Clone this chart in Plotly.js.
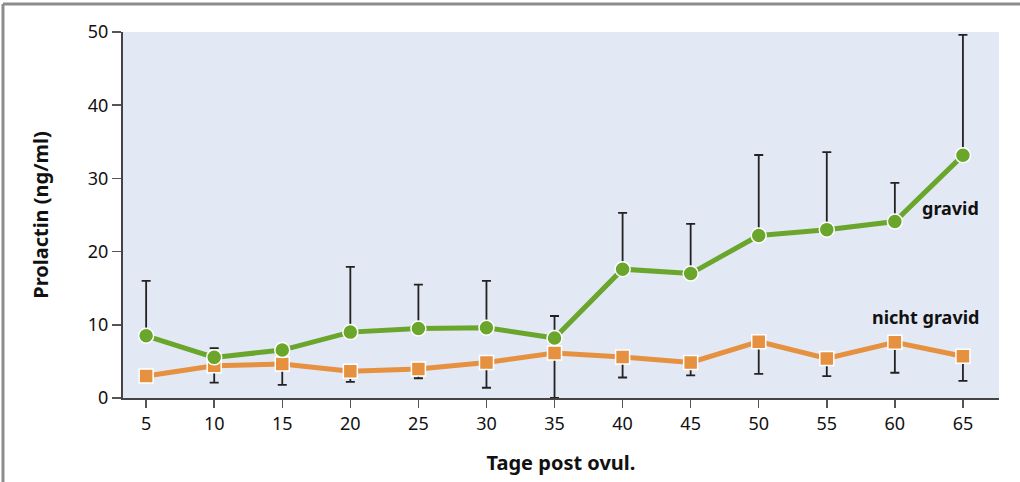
<!DOCTYPE html>
<html>
<head>
<meta charset="utf-8">
<script src="https://cdn.plot.ly/plotly-3.0.1.min.js"></script>
<style>
html,body{margin:0;padding:0;background:#fff;}
#chart{width:1020px;height:482px;}
</style>
</head>
<body>
<div id="chart"></div>
<script>
// Data
var days = [5, 10, 15, 20, 25, 30, 35, 40, 45, 50, 55, 60, 65];

var gravidMean  = [8.5, 5.55, 6.55, 9.0, 9.5, 9.6, 8.2, 17.6, 17.0, 22.2, 23.0, 24.1, 33.15];
var gravidUpper = [16.0, 6.8, 6.55, 17.9, 15.5, 16.0, 11.2, 25.3, 23.8, 33.2, 33.6, 29.4, 49.6];

var nichtMean  = [3.0, 4.4, 4.65, 3.65, 3.95, 4.85, 6.15, 5.6, 4.85, 7.7, 5.4, 7.6, 5.7];
var nichtLower = [3.0, 2.1, 1.8, 2.2, 2.7, 1.4, 0.0, 2.8, 3.1, 3.3, 3.0, 3.45, 2.35];

var yTicks = [0, 10, 20, 30, 40, 50];
var seriesLabels = ["gravid", "nicht gravid"];
var xTitle = "Tage post ovul.";
var yTitle = "Prolactin (ng/ml)";

var gravidPlus = gravidUpper.map(function (u, i) { return u - gravidMean[i]; });
var nichtMinus = nichtMean.map(function (m, i) { return m - nichtLower[i]; });
var zeros = days.map(function () { return 0; });

var FONT = "Noto Sans, Open Sans, DejaVu Sans, sans-serif";

var traces = [
  {
    x: days, y: nichtMean, type: "scatter", mode: "lines+markers",
    name: seriesLabels[1],
    line: {color: "#e59140", width: 5},
    marker: {symbol: "square", size: 14, color: "#e59140", line: {color: "#ffffff", width: 1.5}},
    error_y: {type: "data", symmetric: false, array: zeros, arrayminus: nichtMinus,
              color: "#222222", thickness: 1.8, width: 4.5}
  },
  {
    x: days, y: gravidMean, type: "scatter", mode: "lines+markers",
    name: seriesLabels[0],
    line: {color: "#6aa62c", width: 5},
    marker: {symbol: "circle", size: 15, color: "#6aa62c", line: {color: "#ffffff", width: 1.5}},
    error_y: {type: "data", symmetric: false, array: gravidPlus, arrayminus: zeros,
              color: "#222222", thickness: 1.8, width: 4.5}
  }
];

var layout = {
  width: 1020, height: 482,
  margin: {l: 123, r: 21, t: 32, b: 84},
  paper_bgcolor: "#ffffff",
  plot_bgcolor: "#e3e8f5",
  showlegend: false,
  font: {family: FONT, size: 16, color: "#111111"},
  xaxis: {
    range: [3.3, 67.65],
    tickvals: days, ticktext: days.map(String),
    ticks: "outside", ticklen: 8, tickwidth: 1.5, tickcolor: "#555555",
    showgrid: false, zeroline: false,
    showline: true, linecolor: "#444444", linewidth: 2,
    tickfont: {family: FONT, size: 18, color: "#111111"},
    title: {text: "<b>" + xTitle + "</b>", font: {family: FONT, size: 20, color: "#111111"}, standoff: 22}
  },
  yaxis: {
    range: [0, 50],
    tickvals: yTicks, ticktext: yTicks.map(String),
    ticks: "outside", ticklen: 9, tickwidth: 1.5, tickcolor: "#555555",
    showgrid: false, zeroline: false,
    showline: true, linecolor: "#444444", linewidth: 2,
    tickfont: {family: FONT, size: 18, color: "#111111"},
    title: {text: "<b>" + yTitle + "</b>", font: {family: FONT, size: 20, color: "#111111"}, standoff: 34}
  },
  annotations: [
    {xref: "paper", yref: "y", x: 0.98, y: 26.0, xanchor: "right", yanchor: "middle",
     text: "<b>" + seriesLabels[0] + "</b>", showarrow: false,
     font: {family: FONT, size: 18, color: "#111111"}},
    {xref: "paper", yref: "y", x: 0.98, y: 11.0, xanchor: "right", yanchor: "middle",
     text: "<b>" + seriesLabels[1] + "</b>", showarrow: false,
     font: {family: FONT, size: 18, color: "#111111"}}
  ],
  shapes: [
    {type: "line", xref: "paper", yref: "paper", x0: -0.137, x1: 1.03, y0: 1.0765, y1: 1.0765,
     line: {color: "#8c8c8c", width: 3}},
    {type: "line", xref: "paper", yref: "paper", x0: -0.137, x1: -0.137, y0: 1.0765, y1: -0.25,
     line: {color: "#8c8c8c", width: 3}}
  ]
};

Plotly.newPlot("chart", traces, layout, {displayModeBar: false, staticPlot: true});
</script>
</body>
</html>
